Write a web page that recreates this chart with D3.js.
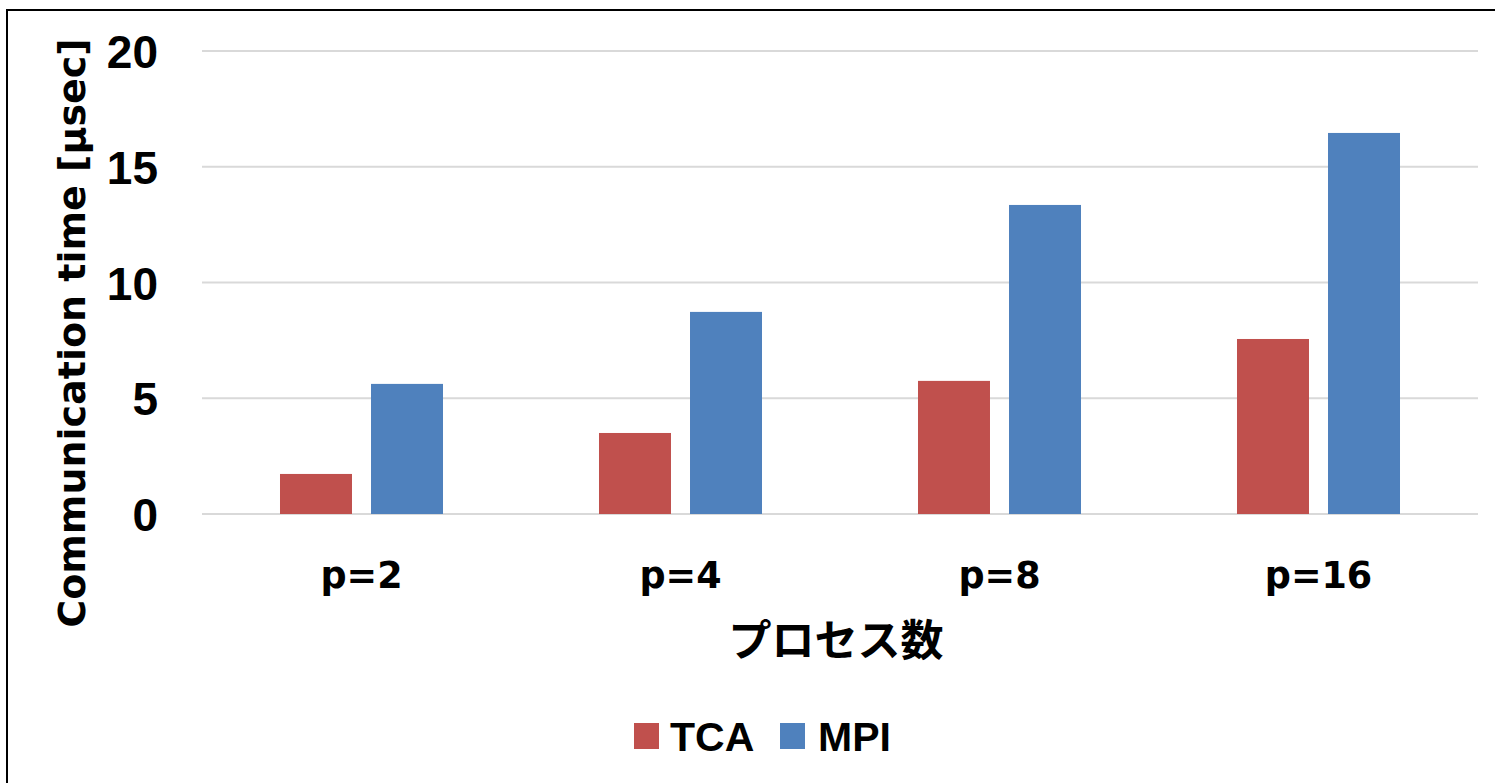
<!DOCTYPE html>
<html>
<head>
<meta charset="utf-8">
<script src="https://cdn.jsdelivr.net/npm/d3@7"></script>
<style>
  html, body { margin: 0; padding: 0; background: #fff; }
  svg { display: block; }
</style>
</head>
<body>
<svg id="chart" width="1495" height="783"></svg>
<script>
// Communication time per process count, TCA vs MPI
const categories = ["p=2", "p=4", "p=8", "p=16"];
const seriesNames = ["TCA", "MPI"];
const tcaValues = [1.73, 3.5, 5.75, 7.56];
const mpiValues = [5.62, 8.73, 13.35, 16.46];
const yTicks = [0, 5, 10, 15, 20];
const yTitle = "Communication time [μsec]";
const xTitle = "プロセス数";

const colors = { TCA: "#C0504D", MPI: "#4F81BD" };

const rows = categories.map((c, i) => ({ cat: c, TCA: tcaValues[i], MPI: mpiValues[i] }));

const svg = d3.select("#chart");

// outer frame
svg.append("rect")
  .attr("x", 7).attr("y", 10)
  .attr("width", 1500).attr("height", 800)
  .attr("fill", "none").attr("stroke", "#000").attr("stroke-width", 2);

const plot = { left: 202, right: 1478, top: 51, bottom: 514 };

const y = d3.scaleLinear().domain([0, 20]).range([plot.bottom, plot.top]);
const x0 = d3.scaleBand().domain(categories).range([plot.left, plot.right]).padding(0);
const x1 = d3.scaleBand().domain(seriesNames).range([0, x0.bandwidth()])
  .paddingInner(0.209).paddingOuter(0.857);

// gridlines
svg.append("g")
  .selectAll("line")
  .data(yTicks)
  .join("line")
  .attr("x1", plot.left).attr("x2", plot.right)
  .attr("y1", d => y(d)).attr("y2", d => y(d))
  .attr("stroke", "#D9D9D9").attr("stroke-width", 2);

// y tick labels
const yAxis = d3.axisLeft(y).tickValues(yTicks).tickSize(0).tickPadding(0);
const yg = svg.append("g").attr("transform", "translate(158,0)").call(yAxis);
yg.select(".domain").remove();
yg.selectAll("text")
  .attr("font-family", "'Liberation Sans', Arial, sans-serif")
  .attr("font-weight", "bold")
  .attr("font-size", 46)
  .attr("fill", "#000")
  .attr("dy", "0.36em");

// bars
svg.append("g")
  .selectAll("g")
  .data(rows)
  .join("g")
  .attr("transform", d => `translate(${x0(d.cat)},0)`)
  .selectAll("rect")
  .data(d => seriesNames.map(s => ({ s, v: d[s] })))
  .join("rect")
  .attr("x", d => x1(d.s))
  .attr("width", x1.bandwidth())
  .attr("y", d => y(d.v))
  .attr("height", d => y(0) - y(d.v))
  .attr("fill", d => colors[d.s]);

// category labels
const xAxis = d3.axisBottom(x0).tickSize(0).tickPadding(0);
const xg = svg.append("g").attr("transform", "translate(0,588)").call(xAxis);
xg.select(".domain").remove();
xg.selectAll("text")
  .attr("font-family", "'DejaVu Sans', Verdana, sans-serif")
  .attr("font-weight", "bold")
  .attr("font-size", 36.5)
  .attr("fill", "#000")
  .attr("dy", 0)
  .attr("y", 0);

// axis titles
svg.append("text")
  .attr("transform", "translate(85,333) rotate(-90)")
  .attr("text-anchor", "middle")
  .attr("font-family", "'DejaVu Sans', Verdana, sans-serif")
  .attr("font-weight", "bold")
  .attr("font-size", 38)
  .attr("fill", "#000")
  .text(yTitle);

svg.append("text")
  .attr("x", 836).attr("y", 656)
  .attr("text-anchor", "middle")
  .attr("font-family", "'Noto Sans CJK JP', sans-serif")
  .attr("font-weight", "bold")
  .attr("font-size", 43)
  .attr("fill", "#000")
  .text(xTitle);

// legend
const legendPos = [{ s: "TCA", rx: 634, tx: 670 }, { s: "MPI", rx: 780, tx: 818 }];
const lg = svg.append("g");
lg.selectAll("rect")
  .data(legendPos)
  .join("rect")
  .attr("x", d => d.rx).attr("y", 723)
  .attr("width", 25).attr("height", 26)
  .attr("fill", d => colors[d.s]);
lg.selectAll("text")
  .data(legendPos)
  .join("text")
  .attr("x", d => d.tx).attr("y", 751)
  .attr("font-family", "'Liberation Sans', Arial, sans-serif")
  .attr("font-weight", "bold")
  .attr("font-size", 41)
  .attr("fill", "#000")
  .text(d => d.s);
</script>
</body>
</html>
